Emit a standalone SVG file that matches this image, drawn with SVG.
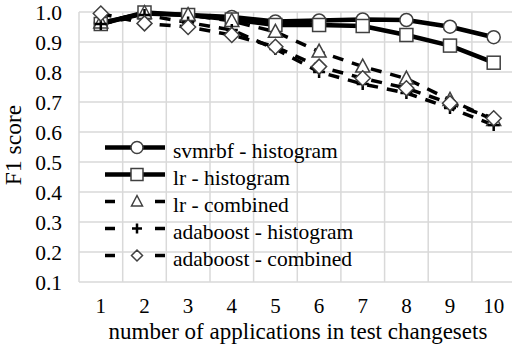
<svg xmlns="http://www.w3.org/2000/svg" width="512" height="345" viewBox="0 0 512 345">
<style>
.grid{stroke:#d9d9d9;stroke-width:1.5;fill:none}
.solid{stroke:#000;stroke-width:4.5;fill:none;stroke-linejoin:round}
.dash{stroke:#000;stroke-width:3.5;fill:none;stroke-dasharray:11 9}
.mk{fill:#fff;stroke:#404040;stroke-width:1.5}
.plus{stroke:#000;stroke-width:2.5;fill:none}
.t{font-size:21.5px;fill:#000}
.xt{font-size:21px;fill:#000}
.ttl{font-size:23.5px;fill:#000}
.lgsolid{stroke:#000;stroke-width:4.5}
.lgdash{stroke:#000;stroke-width:3.5;stroke-dasharray:10 40}
</style>
<defs>
<circle id="mC" r="6.5" class="mk"/>
<rect id="mS" x="-6.5" y="-6.5" width="13" height="13" class="mk"/>
<polygon id="mT" points="0,-7.5 7,5.5 -7,5.5" class="mk"/>
<polygon id="mD" points="0,-7.5 7.5,0 0,7.5 -7.5,0" class="mk"/>
<path id="mP" d="M-6,0H6M0,-6V6" class="plus"/>
</defs>
<rect width="512" height="345" fill="#fff"/>
<g id="grid">
<path class="grid" d="M79,12V282M122.7,12V282M166.3,12V282M210,12V282M253.6,12V282M297.3,12V282M340.9,12V282M384.6,12V282M428.2,12V282M471.9,12V282"/>
<path class="grid" d="M79,12H512M79,42H512M79,72H512M79,102H512M79,132H512M79,162H512M79,192H512M79,222H512M79,252H512M79,282H512"/>
</g>
<g font-family="'Liberation Serif', 'DejaVu Serif', 'Times New Roman', serif">
<g id="yticks" class="t" text-anchor="end">
<text x="62" y="20">1.0</text><text x="62" y="50">0.9</text><text x="62" y="80">0.8</text><text x="62" y="110">0.7</text><text x="62" y="140">0.6</text><text x="62" y="170">0.5</text><text x="62" y="200">0.4</text><text x="62" y="230">0.3</text><text x="62" y="260">0.2</text><text x="62" y="290">0.1</text>
</g>
<g id="xticks" class="xt" text-anchor="middle">
<text x="100.8" y="313">1</text><text x="144.5" y="313">2</text><text x="188.1" y="313">3</text><text x="231.8" y="313">4</text><text x="275.4" y="313">5</text><text x="319.1" y="313">6</text><text x="362.7" y="313">7</text><text x="406.4" y="313">8</text><text x="450" y="313">9</text><text x="493.7" y="313">10</text>
</g>
<text class="ttl" x="298" y="339" text-anchor="middle" style="font-size:23px">number of applications in test changesets</text>
<text class="ttl" transform="translate(21,145) rotate(-90)" text-anchor="middle">F1 score</text>
</g>
<g id="connectors">
<polyline id="svm-line" class="solid" points="100.8,23 144.5,13.5 188.1,15 231.8,17 275.4,21.5 319.1,20.5 362.7,19.5 406.4,20 450,26.7 493.7,37.2"/>
<polyline id="lrh-line" class="solid" points="100.8,24 144.5,12.5 188.1,15 231.8,19.5 275.4,25 319.1,25 362.7,26 406.4,35 450,45.6 493.7,62.7"/>
<polyline id="lrc-line" class="dash" points="100.8,22.5 144.5,13 188.1,15 231.8,21 275.4,31.8 319.1,51.6 362.7,66.6 406.4,78.6 450,99.9 493.7,120"/>
<polyline id="adh-line" class="dash" points="100.8,24 144.5,15 188.1,22.5 231.8,30 275.4,48.9 319.1,72 362.7,84 406.4,93 450,108 493.7,125"/>
<polyline id="adc-line" class="dash" points="100.8,13.5 144.5,23.4 188.1,27 231.8,35 275.4,46.8 319.1,66.6 362.7,78.3 406.4,88.2 450,103.2 493.7,118.2"/>
</g>
<g id="svm-markers">
<use href="#mC" x="100.8" y="23"/><use href="#mC" x="144.5" y="13.5"/><use href="#mC" x="188.1" y="15"/><use href="#mC" x="231.8" y="17"/><use href="#mC" x="275.4" y="21.5"/><use href="#mC" x="319.1" y="20.5"/><use href="#mC" x="362.7" y="19.5"/><use href="#mC" x="406.4" y="20"/><use href="#mC" x="450" y="26.7"/><use href="#mC" x="493.7" y="37.2"/>
</g>
<g id="lrh-markers">
<use href="#mS" x="100.8" y="24"/><use href="#mS" x="144.5" y="12.5"/><use href="#mS" x="188.1" y="15"/><use href="#mS" x="231.8" y="19.5"/><use href="#mS" x="275.4" y="25"/><use href="#mS" x="319.1" y="25"/><use href="#mS" x="362.7" y="26"/><use href="#mS" x="406.4" y="35"/><use href="#mS" x="450" y="45.6"/><use href="#mS" x="493.7" y="62.7"/>
</g>
<g id="lrc-markers">
<use href="#mT" x="100.8" y="22.5"/><use href="#mT" x="144.5" y="13"/><use href="#mT" x="188.1" y="15"/><use href="#mT" x="231.8" y="21"/><use href="#mT" x="275.4" y="31.8"/><use href="#mT" x="319.1" y="51.6"/><use href="#mT" x="362.7" y="66.6"/><use href="#mT" x="406.4" y="78.6"/><use href="#mT" x="450" y="99.9"/><use href="#mT" x="493.7" y="120"/>
</g>
<g id="adh-markers">
<use href="#mP" x="100.8" y="24"/><use href="#mP" x="144.5" y="15"/><use href="#mP" x="188.1" y="22.5"/><use href="#mP" x="231.8" y="30"/><use href="#mP" x="275.4" y="48.9"/><use href="#mP" x="319.1" y="72"/><use href="#mP" x="362.7" y="84"/><use href="#mP" x="406.4" y="93"/><use href="#mP" x="450" y="108"/><use href="#mP" x="493.7" y="125"/>
</g>
<g id="adc-markers">
<use href="#mD" x="100.8" y="13.5"/><use href="#mD" x="144.5" y="23.4"/><use href="#mD" x="188.1" y="27"/><use href="#mD" x="231.8" y="35"/><use href="#mD" x="275.4" y="46.8"/><use href="#mD" x="319.1" y="66.6"/><use href="#mD" x="362.7" y="78.3"/><use href="#mD" x="406.4" y="88.2"/><use href="#mD" x="450" y="103.2"/><use href="#mD" x="493.7" y="118.2"/>
</g>
<g id="legend" font-family="'Liberation Serif', 'DejaVu Serif', 'Times New Roman', serif">
<g id="lg-svm"><line class="lgsolid" x1="105" y1="147.5" x2="165" y2="147.5"/><circle class="mk" cx="137" cy="147.5" r="6"/><text class="t" x="173" y="158">svmrbf - histogram</text></g>
<g id="lg-lrh"><line class="lgsolid" x1="105" y1="174.5" x2="165" y2="174.5"/><rect class="mk" x="131" y="168.5" width="12" height="12"/><text class="t" x="173" y="185">lr - histogram</text></g>
<g id="lg-lrc"><line class="lgdash" x1="105" y1="201.5" x2="165" y2="201.5"/><polygon class="mk" points="137,195.5 142.5,206 131.5,206"/><text class="t" x="173" y="212">lr - combined</text></g>
<g id="lg-adh"><line class="lgdash" x1="105" y1="228.5" x2="165" y2="228.5"/><path class="plus" d="M132,228.5H142M137,223.5V233.5"/><text class="t" x="173" y="239">adaboost - histogram</text></g>
<g id="lg-adc"><line class="lgdash" x1="105" y1="255.5" x2="165" y2="255.5"/><polygon class="mk" points="137,250 142.5,255.5 137,261 131.5,255.5"/><text class="t" x="173" y="266">adaboost - combined</text></g>
</g>
</svg>
